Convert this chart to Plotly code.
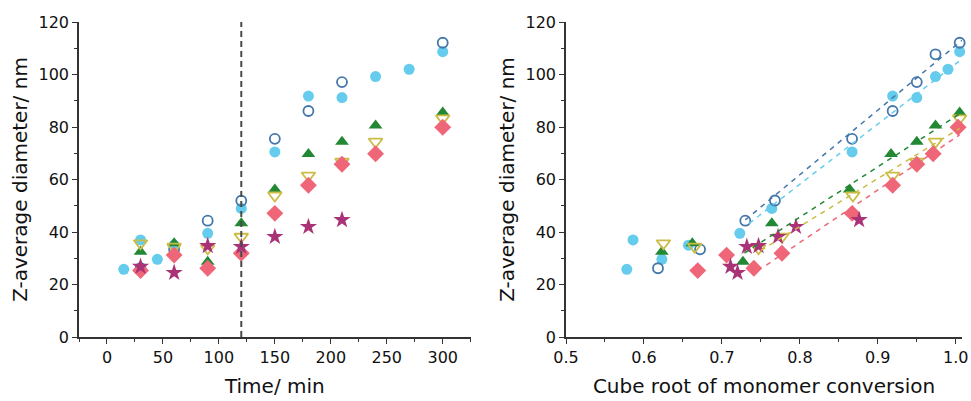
import plotly.graph_objects as go

# ---------------- data ----------------
# Left panel: time (min)
t_filled = [15, 30, 45, 60, 90, 120, 150, 180, 210, 240, 270, 300]
d_filled = [25.8, 37.0, 29.6, 35.0, 39.5, 49.0, 70.5, 91.8, 91.2, 99.2, 102.0, 108.7]

t_open = [30, 60, 90, 120, 150, 180, 210, 300]
d_open_left = [26.2, 33.4, 44.3, 51.9, 75.5, 86.1, 97.1, 112.1]

t_std = [30, 60, 90, 120, 150, 180, 210, 240, 300]
d_green = [32.5, 35.7, 28.7, 43.3, 56.2, 69.7, 74.4, 80.6, 85.5]
d_yellow = [35.7, 34.4, 33.8, 38.2, 53.9, 61.5, 66.8, 74.4, 83.3]
d_pink = [25.3, 31.2, 26.2, 31.9, 47.1, 57.8, 65.8, 69.8, 79.9]

t_star = [30, 60, 90, 120, 150, 180, 210]
d_star = [26.8, 24.5, 34.7, 34.4, 38.2, 42.0, 44.6]

vline_x = [120, 120]
vline_y = [0, 120]

# Right panel: cube root of monomer conversion
c_filled = [0.578, 0.586, 0.623, 0.657, 0.723, 0.764, 0.867, 0.919, 0.950, 0.974, 0.990, 1.005]
c_open = [0.618, 0.672, 0.730, 0.768, 0.867, 0.919, 0.950, 0.974, 1.005]
d_open_right = [26.2, 33.4, 44.3, 52.0, 75.5, 86.1, 97.1, 107.7, 112.1]
c_green = [0.623, 0.662, 0.727, 0.764, 0.864, 0.917, 0.950, 0.974, 1.005]
c_yellow = [0.625, 0.665, 0.747, 0.777, 0.868, 0.919, 0.950, 0.974, 1.005]
c_pink = [0.669, 0.706, 0.741, 0.777, 0.867, 0.919, 0.950, 0.971, 1.003]
c_star = [0.711, 0.720, 0.747, 0.732, 0.772, 0.795, 0.876]

# linear fits (endpoints)
fit_open_x, fit_open_y = [0.730, 1.010], [44.6, 113.5]
fit_filled_x, fit_filled_y = [0.735, 1.012], [43.3, 106.8]
fit_green_x, fit_green_y = [0.729, 1.005], [32.0, 85.0]
fit_yellow_x, fit_yellow_y = [0.750, 1.005], [33.0, 79.5]
fit_pink_x, fit_pink_y = [0.757, 1.005], [27.4, 77.0]

x_ticks_left = [0, 50, 100, 150, 200, 250, 300]
x_ticks_right = [0.5, 0.6, 0.7, 0.8, 0.9, 1.0]
y_ticks = [0, 20, 40, 60, 80, 100, 120]

# ---------------- style ----------------
C_LB = "#66CCEE"
C_DB = "#4477AA"
C_GR = "#228833"
C_YE = "#CCBB44"
C_PK = "#EE6677"
C_PU = "#AA3377"

FONT = "DejaVu Sans, Verdana, sans-serif"
TXT = "#111111"

series_style = {
    "filled": dict(symbol="circle", size=11, color=C_LB),
    "open": dict(symbol="circle-open", size=10, color=C_DB, line=dict(width=1.8, color=C_DB)),
    "green": dict(symbol="triangle-up", size=12, color=C_GR),
    "yellow": dict(symbol="triangle-down-open", size=12, color=C_YE, line=dict(width=1.8, color=C_YE)),
    "pink": dict(symbol="diamond", size=13, color=C_PK),
    "star": dict(symbol="star", size=13, color=C_PU),
}

fig = go.Figure()

def add_markers(x, y, key, xa, ya):
    fig.add_trace(go.Scatter(x=x, y=y, mode="markers", marker=series_style[key],
                             xaxis=xa, yaxis=ya, showlegend=False, cliponaxis=False))

# left
add_markers(t_filled, d_filled, "filled", "x", "y")
add_markers(t_open, d_open_left, "open", "x", "y")
add_markers(t_std, d_green, "green", "x", "y")
add_markers(t_std, d_yellow, "yellow", "x", "y")
add_markers(t_std, d_pink, "pink", "x", "y")
add_markers(t_star, d_star, "star", "x", "y")
fig.add_trace(go.Scatter(x=vline_x, y=vline_y, mode="lines",
                         line=dict(color="#4a4a4a", width=2, dash="6px,4px"),
                         xaxis="x", yaxis="y", showlegend=False))

# right
add_markers(c_filled, d_filled, "filled", "x2", "y2")
add_markers(c_open, d_open_right, "open", "x2", "y2")
add_markers(c_green, d_green, "green", "x2", "y2")
add_markers(c_yellow, d_yellow, "yellow", "x2", "y2")
add_markers(c_pink, d_pink, "pink", "x2", "y2")
add_markers(c_star, d_star, "star", "x2", "y2")
for fx, fy, col in [(fit_open_x, fit_open_y, C_DB), (fit_filled_x, fit_filled_y, C_LB),
                    (fit_green_x, fit_green_y, C_GR), (fit_yellow_x, fit_yellow_y, C_YE),
                    (fit_pink_x, fit_pink_y, C_PK)]:
    fig.add_trace(go.Scatter(x=fx, y=fy, mode="lines", line=dict(color=col, width=1.5, dash="5px,5px"),
                             xaxis="x2", yaxis="y2", showlegend=False, cliponaxis=False))

axis_common = dict(showgrid=False, zeroline=False, showline=True, linecolor="#333333", linewidth=1.5,
                   ticks="outside", ticklen=5, tickwidth=1.2, tickcolor="#333333", automargin=False,
                   tickfont=dict(family=FONT, size=16, color=TXT))

ytitle = dict(text="Z-average diameter/ nm", font=dict(family=FONT, size=20, color=TXT), standoff=6)

PLOT_W = 971 - 79 - 9
fig.update_layout(
    width=971, height=401,
    margin=dict(l=79, r=9, t=22, b=64),
    plot_bgcolor="white", paper_bgcolor="white",
    xaxis=dict(domain=[0, 391.7 / PLOT_W], range=[-25, 325], tickvals=x_ticks_left,
               minor=dict(dtick=25, tick0=0, ticks="outside", ticklen=3, tickcolor="#333333"),
               title=dict(text="Time/ min", font=dict(family=FONT, size=20, color=TXT), standoff=13),
               anchor="y", **axis_common),
    yaxis=dict(domain=[0, 1], range=[0, 120], tickvals=y_ticks,
               minor=dict(dtick=10, tick0=0, ticks="outside", ticklen=3, tickcolor="#333333"),
               title=ytitle, anchor="x", **axis_common),
    xaxis2=dict(domain=[487 / PLOT_W, 1], range=[0.5, 1.008], tickvals=x_ticks_right,
                ticktext=["0.5", "0.6", "0.7", "0.8", "0.9", "1.0"],
                minor=dict(dtick=0.05, tick0=0.5, ticks="outside", ticklen=3, tickcolor="#333333"),
                title=dict(text="Cube root of monomer conversion", font=dict(family=FONT, size=20, color=TXT), standoff=13),
                anchor="y2", **axis_common),
    yaxis2=dict(domain=[0, 1], range=[0, 120], tickvals=y_ticks,
                minor=dict(dtick=10, tick0=0, ticks="outside", ticklen=3, tickcolor="#333333"),
                title=ytitle, anchor="x2", **axis_common),
)

fig.write_html("out.html")
